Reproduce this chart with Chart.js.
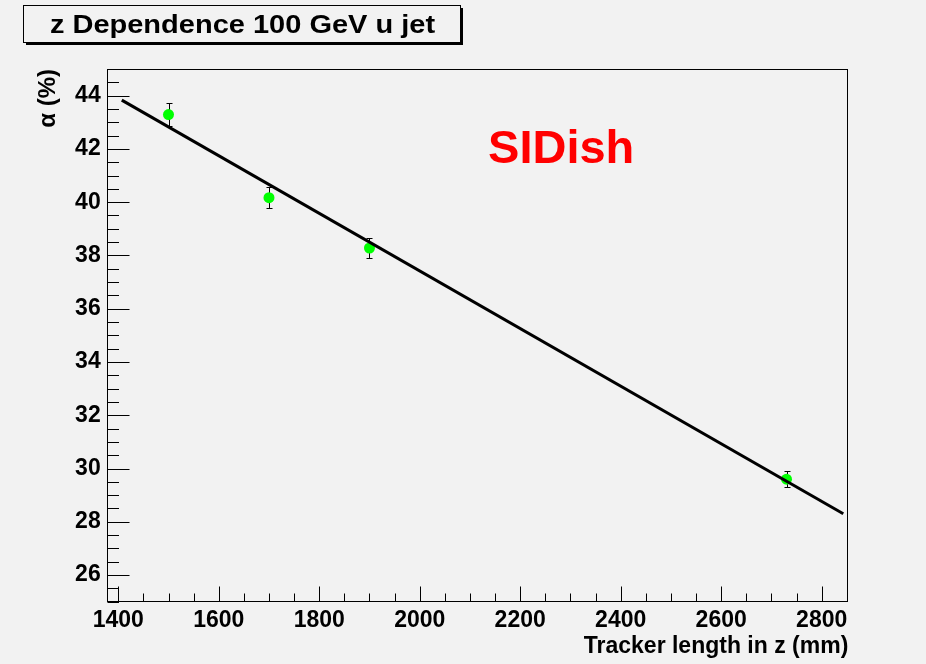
<!DOCTYPE html>
<html>
<head>
<meta charset="utf-8">
<title>z Dependence 100 GeV u jet</title>
<script src="https://cdn.jsdelivr.net/npm/chart.js@4.4.1/dist/chart.umd.min.js"></script>
<style>
  html, body { margin: 0; padding: 0; background: #f2f2f2; }
  #wrap { width: 926px; height: 664px; position: relative; }
</style>
</head>
<body>
<div id="wrap"><canvas id="chart"></canvas></div>
<script>
// ---------- Data ----------
const trackerLength = [1500, 1700, 1900, 2730];     // mm
const alphaPct = [43.29, 40.17, 38.28, 29.60];      // %
const alphaErr = [0.42, 0.40, 0.39, 0.29];
const fitX = [1407, 2843];
const fitY = [43.83, 28.30];
const xTicks = [1400, 1600, 1800, 2000, 2200, 2400, 2600, 2800];
const yTicks = [26, 28, 30, 32, 34, 36, 38, 40, 42, 44];
const plotTitle = "z Dependence 100 GeV u jet";
const tagText = "SIDish";
const tagAt = { x: 2136, y: 41.46 };

const FONT = '"Liberation Sans", Arial, Helvetica, sans-serif';
const BG = "#f2f2f2";

// ---------- ROOT-like frame, ticks, error bars, title box ----------
const rootStyle = {
  id: "rootStyle",
  beforeDraw(chart) {
    const ctx = chart.ctx;
    ctx.save();
    ctx.fillStyle = BG;
    ctx.fillRect(0, 0, chart.width, chart.height);
    ctx.restore();
  },
  beforeDatasetsDraw(chart) {
    const { ctx, chartArea: a, scales: { x, y } } = chart;
    ctx.save();
    ctx.strokeStyle = "#000";
    ctx.lineWidth = 1;

    // frame
    const L = Math.round(a.left) + 0.5, R = Math.round(a.right) - 0.5;
    const T = Math.round(a.top) + 0.5, B = Math.round(a.bottom) - 0.5;
    ctx.strokeRect(L, T, R - L, B - T);

    // y ticks (major + 3 minor between)
    const yStep = (yTicks[1] - yTicks[0]) / 4;
    ctx.beginPath();
    for (let v = Math.ceil(y.min / yStep) * yStep; v <= y.max + 1e-9; v += yStep) {
      const py = Math.round(y.getPixelForValue(v)) + 0.5;
      const major = yTicks.some(t => Math.abs(t - v) < 1e-6);
      ctx.moveTo(L, py);
      ctx.lineTo(L + (major ? 22 : 11.5), py);
    }
    // x ticks
    const xStep = (xTicks[1] - xTicks[0]) / 4;
    for (let v = Math.ceil(x.min / xStep) * xStep; v <= x.max + 1e-9; v += xStep) {
      const px = Math.round(x.getPixelForValue(v)) + 0.5;
      const major = xTicks.some(t => Math.abs(t - v) < 1e-6);
      ctx.moveTo(px, B);
      ctx.lineTo(px, B - (major ? 15 : 8));
    }
    ctx.stroke();

    // error bars
    ctx.beginPath();
    trackerLength.forEach((v, i) => {
      const px = Math.round(x.getPixelForValue(v)) + 0.5;
      const top = Math.round(y.getPixelForValue(alphaPct[i] + alphaErr[i])) + 0.5;
      const bot = Math.round(y.getPixelForValue(alphaPct[i] - alphaErr[i])) + 0.5;
      ctx.moveTo(px, top); ctx.lineTo(px, bot);
      ctx.moveTo(px - 3, top); ctx.lineTo(px + 3, top);
      ctx.moveTo(px - 3, bot); ctx.lineTo(px + 3, bot);
    });
    ctx.stroke();
    ctx.restore();
  },
  afterDraw(chart) {
    const { ctx, scales: { x, y } } = chart;
    ctx.save();

    // title box with shadow
    const bx = 23, by = 5, bw = 437, bh = 37;
    ctx.fillStyle = "#000";
    ctx.fillRect(bx + 3, by + bh, bw, 3);
    ctx.fillRect(bx + bw, by + 3, 3, bh);
    ctx.strokeStyle = "#000";
    ctx.lineWidth = 1;
    ctx.strokeRect(bx + 0.5, by + 0.5, bw, bh);

    ctx.fillStyle = "#000";
    ctx.font = "bold 25px " + FONT;
    ctx.textAlign = "center";
    ctx.textBaseline = "alphabetic";
    ctx.translate(bx + bw / 2 + 1, by + 28);
    ctx.scale(1.16, 1);
    ctx.fillText(plotTitle, 0, 0);
    ctx.setTransform(1, 0, 0, 1, 0, 0);

    // tag
    ctx.fillStyle = "#ff0000";
    ctx.font = "bold 47px " + FONT;
    ctx.textAlign = "left";
    ctx.fillText(tagText, x.getPixelForValue(tagAt.x), y.getPixelForValue(tagAt.y));
    ctx.restore();
  },
};

new Chart(document.getElementById("chart"), {
  type: "scatter",
  data: {
    datasets: [
      {
        type: "line",
        label: "fit",
        data: fitX.map((v, i) => ({ x: v, y: fitY[i] })),
        borderColor: "#000",
        borderWidth: 3,
        pointRadius: 0,
        fill: false,
        tension: 0,
        order: 0,
      },
      {
        type: "scatter",
        label: "alpha",
        data: trackerLength.map((v, i) => ({ x: v, y: alphaPct[i] })),
        backgroundColor: "#00ff00",
        borderColor: "#00ff00",
        borderWidth: 0,
        pointRadius: 5.5,
        order: 1,
      },
    ],
  },
  options: {
    responsive: true,
    maintainAspectRatio: false,
    animation: false,
    layout: { padding: { top: 69, right: 77.7, left: 0, bottom: 0 } },
    plugins: { legend: { display: false }, tooltip: { enabled: false } },
    scales: {
      x: {
        type: "linear",
        min: 1377,
        max: 2853,
        afterBuildTicks: (s) => { s.ticks = xTicks.map(v => ({ value: v })); },
        afterFit: (s) => { s.height = 62.3; },
        grid: { display: false, drawTicks: false },
        border: { display: false },
        ticks: {
          color: "#000",
          font: { family: FONT, size: 23, weight: "bold" },
          padding: 5,
          maxRotation: 0,
          autoSkip: false,
          callback: (v) => String(v),
        },
        title: {
          display: true,
          text: "Tracker length in z (mm)",
          align: "end",
          color: "#000",
          font: { family: FONT, size: 23, weight: "bold" },
          padding: { top: 0, bottom: 4 },
        },
      },
      y: {
        type: "linear",
        min: 25,
        max: 45,
        afterBuildTicks: (s) => { s.ticks = yTicks.map(v => ({ value: v })); },
        afterFit: (s) => { s.width = 106.7; },
        grid: { display: false, drawTicks: false },
        border: { display: false },
        ticks: {
          color: "#000",
          font: { family: FONT, size: 23, weight: "bold" },
          padding: 6,
          autoSkip: false,
          callback: (v) => String(v),
        },
        title: {
          display: true,
          text: "α (%)",
          align: "end",
          color: "#000",
          font: { family: FONT, size: 24, weight: "bold" },
          padding: { top: 34, bottom: 0 },
        },
      },
    },
  },
  plugins: [rootStyle],
});
</script>
</body>
</html>
